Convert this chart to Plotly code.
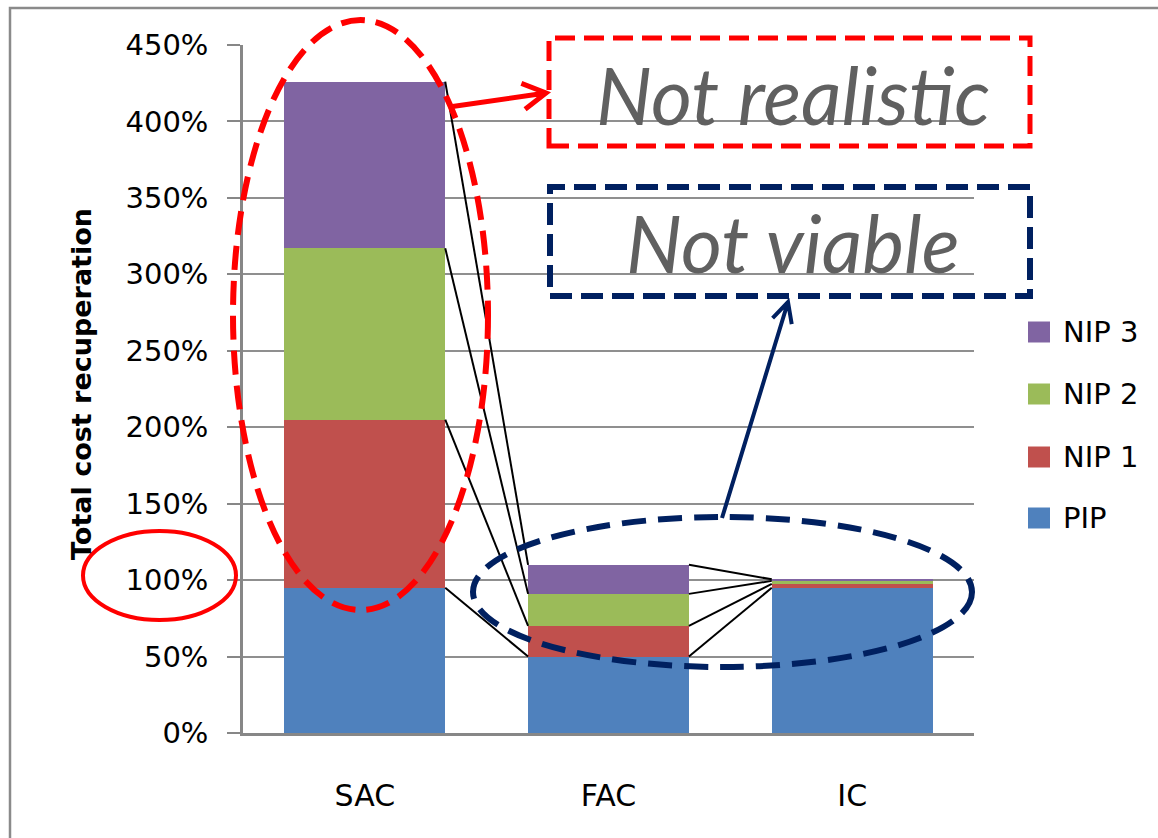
import plotly.graph_objects as go

# Cost recuperation per pricing scheme, stacked by price component
categories = ["SAC", "FAC", "IC"]
series_names = ["PIP", "NIP 1", "NIP 2", "NIP 3"]
pip = [0.95, 0.50, 0.95]
nip1 = [1.10, 0.20, 0.025]
nip2 = [1.12, 0.21, 0.02]
nip3 = [1.09, 0.19, 0.01]
series_values = [pip, nip1, nip2, nip3]
series_colors = ["#4F81BD", "#C0504D", "#9BBB59", "#8064A2"]
y_ticks = [0, 0.5, 1.0, 1.5, 2.0, 2.5, 3.0, 3.5, 4.0, 4.5]

W, H = 1158, 838
L, R, T, B = 243, 184, 45, 105
PW, PH = W - L - R, H - T - B
BAR_W = 0.66
SMALL_FONT = "DejaVu Sans"


def px(x):
    """Pixel column -> paper x."""
    return (x - L) / PW


def py(y):
    """Pixel row -> paper y."""
    return (H - B - y) / PH


xs = list(range(len(categories)))
fig = go.Figure()

# stacked bars
for name, vals, col in zip(series_names, series_values, series_colors):
    fig.add_trace(go.Bar(
        x=xs, y=vals, name=name, width=BAR_W,
        marker=dict(color=col, line=dict(width=0)),
        showlegend=False,
    ))

# series lines joining the top of each segment across neighbouring bars
cum = [0.0] * len(categories)
for vals in series_values:
    cum = [c + v for c, v in zip(cum, vals)]
    lx, ly = [], []
    for i in range(len(categories) - 1):
        lx += [i + BAR_W / 2, i + 1 - BAR_W / 2, None]
        ly += [cum[i], cum[i + 1], None]
    fig.add_trace(go.Scatter(
        x=lx, y=ly, mode="lines", line=dict(color="black", width=2),
        showlegend=False, hoverinfo="skip",
    ))

shapes = []
annotations = []

# outer chart frame (left and top edges visible)
shapes.append(dict(type="rect", xref="paper", yref="paper",
                   x0=px(10), x1=px(1200), y0=py(8), y1=py(900),
                   line=dict(color="#8a8a8a", width=2.5), layer="below"))

# manual legend, top entry is the top segment
legend_rows = [332, 394, 457, 518]
for name, col, yc in zip(series_names[::-1], series_colors[::-1], legend_rows):
    shapes.append(dict(type="rect", xref="paper", yref="paper",
                       x0=px(1028), x1=px(1050), y0=py(yc - 10.5), y1=py(yc + 10.5),
                       fillcolor=col, line=dict(width=0)))
    annotations.append(dict(text=name, xref="paper", yref="paper",
                            x=px(1061), y=py(yc), xanchor="left", yanchor="middle",
                            showarrow=False,
                            font=dict(family=SMALL_FONT, size=29, color="black")))

RED = "#FF0000"
NAVY = "#002060"

# dashed ellipse around the SAC bar
shapes.append(dict(type="circle", xref="paper", yref="paper",
                   x0=px(233), x1=px(488), y0=py(610), y1=py(20),
                   line=dict(color=RED, width=6, dash="24px,11px")))
# ellipse around the 100% tick label
shapes.append(dict(type="circle", xref="paper", yref="paper",
                   x0=px(83), x1=px(236), y0=py(620), y1=py(531),
                   line=dict(color=RED, width=4)))
# dashed ellipse around FAC / IC
shapes.append(dict(type="circle", xref="paper", yref="paper",
                   x0=px(473), x1=px(972), y0=py(667), y1=py(517),
                   line=dict(color=NAVY, width=6, dash="24px,12px")))

# callout boxes
shapes.append(dict(type="rect", xref="paper", yref="paper",
                   x0=px(549), x1=px(1030), y0=py(146), y1=py(38),
                   line=dict(color=RED, width=5, dash="20px,9px")))
shapes.append(dict(type="rect", xref="paper", yref="paper",
                   x0=px(550), x1=px(1030), y0=py(296), y1=py(187),
                   line=dict(color=NAVY, width=6, dash="22px,9px")))


def arrow_path(x0, y0, x1, y1, wing_back, wing_side):
    dx, dy = x1 - x0, y1 - y0
    n = (dx * dx + dy * dy) ** 0.5
    ux, uy = dx / n, dy / n
    pxv, pyv = -uy, ux
    bx, by = x1 - wing_back * ux, y1 - wing_back * uy
    w1 = (bx + wing_side * pxv, by + wing_side * pyv)
    w2 = (bx - wing_side * pxv, by - wing_side * pyv)

    def p(x, y):
        return f"{px(x):.5f},{py(y):.5f}"

    return (f"M{p(x0, y0)} L{p(x1, y1)} "
            f"M{p(*w1)} L{p(x1, y1)} L{p(*w2)}")


shapes.append(dict(type="path", xref="paper", yref="paper",
                   path=arrow_path(449, 107, 546, 93, 23, 13),
                   line=dict(color=RED, width=5)))
shapes.append(dict(type="path", xref="paper", yref="paper",
                   path=arrow_path(722, 518, 788, 302, 20, 10),
                   line=dict(color=NAVY, width=4)))

annotations.append(dict(text="Not realistic", xref="paper", yref="paper",
                        x=px(793), y=py(94), xanchor="center", yanchor="middle",
                        showarrow=False,
                        font=dict(family="Lato", size=79, color="#606060", style="italic")))
annotations.append(dict(text="Not viable", xref="paper", yref="paper",
                        x=px(793), y=py(243), xanchor="center", yanchor="middle",
                        showarrow=False,
                        font=dict(family="Lato", size=79, color="#606060", style="italic")))

# y-axis title
annotations.append(dict(text="<b>Total cost recuperation</b>", xref="paper", yref="paper",
                        x=px(81), y=py(384), xanchor="center", yanchor="middle",
                        textangle=-90, showarrow=False,
                        font=dict(family=SMALL_FONT, size=27, color="black")))

fig.update_layout(
    width=W, height=H,
    margin=dict(l=L, r=R, t=T, b=B, pad=0),
    paper_bgcolor="white", plot_bgcolor="white",
    barmode="stack",
    showlegend=False,
    shapes=shapes,
    annotations=annotations,
    font=dict(family=SMALL_FONT, color="black"),
)
fig.update_xaxes(
    range=[-0.5, len(categories) - 0.5],
    tickmode="array", tickvals=xs, ticktext=categories,
    tickfont=dict(family=SMALL_FONT, size=30, color="black"),
    showgrid=False, showline=True, linecolor="#878787", linewidth=2.5,
    ticks="", ticklabelstandoff=34, zeroline=False,
)
fig.update_yaxes(
    range=[0, 4.5],
    tickmode="array", tickvals=y_ticks,
    ticktext=[f"{int(round(v * 100))}%" for v in y_ticks],
    tickfont=dict(family=SMALL_FONT, size=29, color="black"),
    showgrid=True, gridcolor="#8f8f8f", gridwidth=2,
    showline=True, linecolor="#878787", linewidth=2.5,
    ticks="outside", ticklen=13, tickcolor="#878787", tickwidth=2,
    ticklabelstandoff=13, zeroline=False,
)

fig.write_html("out.html")
